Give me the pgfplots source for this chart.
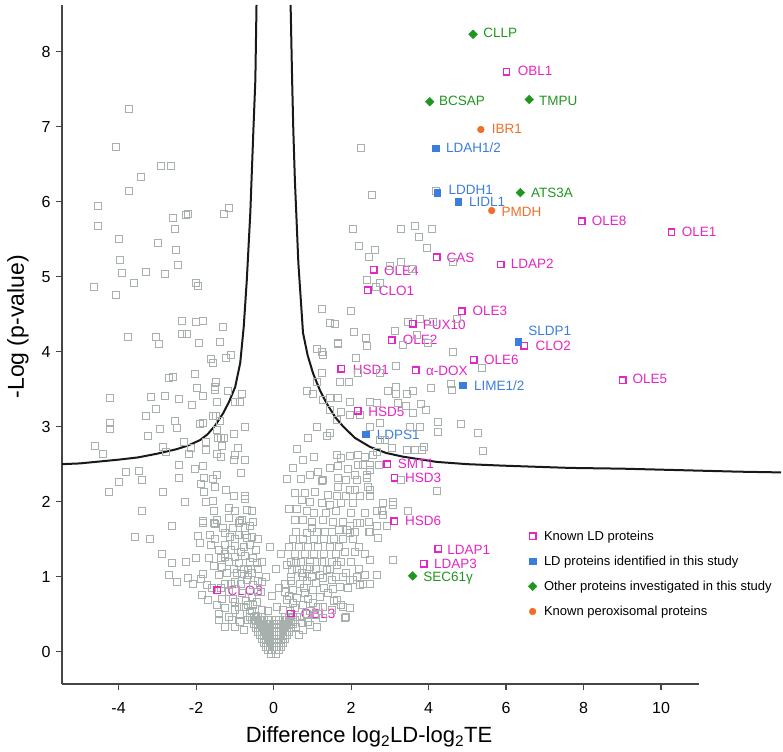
\documentclass[border=0pt]{standalone}
\usepackage{fontspec}
\setmainfont{Liberation Sans}
\usepackage{pgfplots}
\pgfplotsset{compat=1.18}
\definecolor{mag}{RGB}{228,38,196}
\definecolor{bl}{RGB}{58,125,222}
\definecolor{gr}{RGB}{32,150,32}
\definecolor{org}{RGB}{240,110,40}
\definecolor{gpt}{RGB}{168,176,174}
\definecolor{axg}{RGB}{70,70,70}
\tikzset{lbl/.style={anchor=west, inner sep=0pt, text height=1.4ex, text depth=0pt, font=\fontsize{13.5}{15}\selectfont}}
\begin{document}
\begin{tikzpicture}
\begin{axis}[
  width=637pt, height=679pt, scale only axis,
  xmin=-5.46, xmax=10.98, ymin=-0.43, ymax=8.62,
  axis lines=left, axis line style={-, line width=1.1pt, color=axg},
  tick align=outside, major tick length=6pt,
  tick style={line width=1.1pt, color=axg},
  xtick={-4,-2,0,2,4,6,8,10}, ytick={0,1,2,3,4,5,6,7,8},
  clip=false,
  /pgf/number format/assume math mode=true,
  ticklabel style={font=\fontsize{16}{18}\selectfont},
  xticklabel style={yshift=-9pt},
  yticklabel style={xshift=-2pt},
  every axis x label/.style={at={(axis description cs:0.482,-0.0780)}, anchor=center, font=\fontsize{22}{24}\selectfont},
  every axis y label/.style={at={(axis description cs:-0.069,0.526)}, anchor=center, rotate=90, font=\fontsize{23}{25}\selectfont},
  xlabel={Difference log\textsubscript{2}LD-log\textsubscript{2}TE},
  ylabel={-Log (p-value)},
  legend cell align=left,
  legend style={at={(0.7316,0.2261)}, anchor=north west, draw=none, fill=none, inner sep=0pt,
    row sep=14.2pt, column sep=7pt, nodes={inner sep=0pt}, font=\fontsize{13}{15}\selectfont},
]
% gray points
\addplot[only marks, mark=square, mark size=3.5pt, color=gpt, mark options={line width=0.9pt}, forget plot] coordinates {
(-3.72,7.23) (-4.07,6.73) (-2.90,6.47) (-2.66,6.47) (-3.42,6.33) (-3.72,6.14) (-4.54,5.94) (-4.52,5.68) (-2.60,5.78) (-2.26,5.82) (-2.20,5.84) (-2.54,5.64) (-1.27,5.83) (-1.16,5.92) (-3.98,5.50) (-2.99,5.45) (-2.51,5.36) (-3.96,5.22) (-2.48,5.16) (-3.90,5.05) (-3.30,5.06) (-2.81,5.03) (-3.61,4.91) (-4.63,4.86) (-4.07,4.76) (-2.01,4.92) (-1.95,4.88) (-2.37,4.41) (-2.01,4.40) (-1.81,4.41) (-1.31,4.33) (-3.77,4.20) (-3.04,4.20) (-2.37,4.24) (-2.24,4.23)
(-2.95,4.10) (-1.93,4.12) (-1.39,4.13) (-1.62,3.90) (-1.57,3.85) (-1.22,3.92) (-1.09,3.96) (-2.71,3.65) (-2.60,3.66) (-2.04,3.70) (-1.49,3.59) (-1.51,3.53) (-1.99,3.52) (-1.81,3.41) (-1.51,3.49) (-1.19,3.48) (-0.82,3.43) (-4.22,3.38) (-3.16,3.40) (-2.80,3.41) (-2.43,3.37) (-2.10,3.29) (-1.45,3.33) (-0.99,3.33) (-0.88,3.33) (-3.03,3.23) (-3.30,3.14) (-4.22,3.05) (-4.22,2.97) (-2.54,3.08) (-1.89,3.03) (-1.83,3.05) (-1.57,3.14) (-1.49,3.14) (-1.38,3.07) (-2.93,2.97) (-2.50,2.98) (-1.47,2.96) (-0.75,3.00) (-3.24,2.88) (-1.43,2.85) (-1.36,2.85) (-1.28,2.85) (-1.01,2.90) (-1.74,2.79) (-2.32,2.79) (-4.60,2.74) (-4.41,2.64) (-2.86,2.73) (-2.77,2.66) (-2.13,2.71) (-1.74,2.69) (-1.33,2.74) (-0.93,2.71) (-2.19,2.64) (-1.45,2.64) (-1.36,2.59) (-0.99,2.62) (-1.03,2.56) (-0.75,2.55) (-2.45,2.49) (-1.83,2.48) (-2.04,2.43) (-3.80,2.40) (-3.48,2.41) (-3.40,2.29) (-3.98,2.26) (-4.24,2.13) (-2.45,2.31) (-1.79,2.31) (-1.57,2.30) (-1.45,2.36) (-1.87,2.23) (-1.79,2.13) (-1.51,2.19) (-1.23,2.16) (-1.03,2.07) (-0.84,2.38) (-0.75,2.08) (-0.75,2.03) (-2.86,2.13) (-2.28,1.99) (-1.74,2.00) (-1.57,2.01) (-3.40,1.87) (-1.55,1.87) (-1.16,1.91) (-0.99,1.87) (-0.69,1.89) (-0.56,1.87) (-2.62,1.68) (-1.83,1.74) (-1.45,1.76) (-1.51,1.70) (-1.16,1.78) (-0.88,1.74) (-0.82,1.76) (-0.52,1.73)
(-1.83,1.72) (-1.55,1.71) (-0.90,1.71) (-0.60,1.67) (-3.57,1.53) (-3.18,1.50) (-1.94,1.54) (-1.64,1.56) (-1.25,1.58) (-1.12,1.53) (-0.90,1.56) (-0.69,1.51) (-0.56,1.53) (-1.89,1.45) (-1.62,1.42) (-1.26,1.42) (-0.99,1.41) (-0.77,1.40) (-0.60,1.42) (-1.25,1.31) (-2.88,1.30) (-2.62,1.19) (-2.26,1.20) (-1.68,1.25) (-1.35,1.25) (-1.25,1.27) (-0.99,1.27) (-0.73,1.28) (-0.52,1.25) (-0.30,1.20) (-0.43,1.18) (-1.33,1.13) (-1.03,1.11) (-0.77,1.11) (-0.65,1.09) (-0.39,1.10) (-2.71,1.02) (-2.21,0.99) (-1.81,1.04) (-1.42,1.02) (-0.82,1.04) (-0.65,1.02) (-2.50,0.93) (-2.08,0.91) (-1.87,0.97) (-1.72,0.89) (-1.26,0.91) (-0.99,0.93) (-0.69,0.96) (-0.52,0.89) (-0.30,0.93) (-1.16,0.80) (-0.82,0.78) (-0.56,0.73) (-0.32,0.80) (-1.85,0.76) (-1.70,0.69) (-1.33,0.71) (-0.99,0.67) (-1.46,0.62) (-1.25,0.58) (-0.99,0.56) (-0.77,0.60) (-0.52,0.62) (-0.30,0.56) (-1.42,0.51) (-1.16,0.47) (-1.08,0.42) (-0.65,0.42) (-1.25,0.33) (-0.99,0.33) (-0.77,0.29) (-1.42,0.42) (-0.88,0.50) (-0.62,0.52) (-0.45,0.48) (-1.05,0.70) (-0.72,0.68) (-0.42,0.66)
(-1.15,1.20) (-0.90,1.18) (-0.62,1.20) (-1.40,1.35) (-1.10,1.35) (-0.85,1.33) (-0.45,1.35) (-1.50,1.50) (-1.00,1.50) (-0.75,1.55) (-0.40,1.50) (-1.30,1.65) (-1.05,1.65) (-0.75,1.65) (-1.60,0.85) (-1.10,0.90) (-0.85,0.90) (-0.40,0.95) (-1.20,1.05) (-0.95,1.05) (-0.55,1.05) (-0.90,0.60) (-0.65,0.62) (-0.40,0.80) (-0.88,0.40) (-0.55,0.55) (-1.35,0.85) (-2.00,1.25) (-1.55,1.15)
(-0.15,0.55) (0.10,0.60) (-0.05,0.75) (0.15,0.85) (-0.20,1.00) (0.05,1.10) (0.20,1.30) (-0.10,1.40)
(-0.06,-0.03) (0.06,-0.03)
(-0.15,0.02) (-0.05,0.02) (0.05,0.02) (0.15,0.02)
(-0.2,0.07) (-0.1,0.07) (0,0.07) (0.1,0.07) (0.2,0.07)
(-0.25,0.12) (-0.15,0.12) (-0.05,0.12) (0.05,0.12) (0.15,0.12) (0.25,0.12)
(-0.3,0.17) (-0.2,0.17) (-0.1,0.17) (0,0.17) (0.1,0.17) (0.2,0.17) (0.3,0.17)
(-0.35,0.22) (-0.25,0.22) (-0.15,0.22) (-0.05,0.22) (0.05,0.22) (0.15,0.22) (0.25,0.22) (0.35,0.22)
(-0.4,0.27) (-0.3,0.27) (-0.2,0.27) (-0.1,0.27) (0,0.27) (0.1,0.27) (0.2,0.27) (0.3,0.27) (0.4,0.27)
(-0.45,0.32) (-0.35,0.32) (-0.25,0.32) (-0.15,0.32) (-0.05,0.32) (0.05,0.32) (0.15,0.32) (0.25,0.32) (0.35,0.32) (0.45,0.32)
(-0.5,0.37) (-0.4,0.37) (-0.3,0.37) (-0.2,0.37) (-0.1,0.37) (0,0.37) (0.1,0.37) (0.2,0.37) (0.3,0.37) (0.4,0.37) (0.5,0.37)
(-0.55,0.42) (-0.45,0.42) (-0.35,0.42) (-0.25,0.42) (-0.15,0.42) (0.05,0.42) (0.15,0.42) (0.25,0.42) (0.35,0.42) (0.45,0.42) (0.55,0.42)
(-0.6,0.47) (-0.5,0.47) (-0.4,0.47) (-0.3,0.47) (0.3,0.47) (0.4,0.47) (0.5,0.47) (0.6,0.47)
(0.34,1.16) (0.47,1.09) (0.59,1.18) (0.72,1.05) (0.94,1.13) (1.11,1.20) (1.19,1.02) (1.37,1.09) (1.50,0.96) (1.63,1.16) (1.71,0.87) (1.88,1.05) (1.93,0.85) (2.05,0.96) (2.23,0.89) (2.36,1.02) (2.49,0.91) (2.66,1.02) (0.29,0.91) (0.51,0.82) (0.68,0.91) (0.81,0.78) (1.02,0.82) (1.19,0.73) (1.41,0.78) (1.63,0.69) (1.80,0.60) (1.88,0.47) (1.50,0.56) (1.28,0.60) (1.02,0.65) (0.76,0.62) (0.51,0.65) (0.34,0.69) (0.25,0.56) (0.42,0.55) (0.68,0.47) (0.85,0.51) (1.07,0.49) (1.28,0.45) (0.59,0.33) (0.76,0.29) (0.94,0.36) (1.11,0.33) (0.65,0.22) (0.72,0.38) (0.88,0.40)
(0.40,0.75) (0.60,0.72) (0.90,0.70) (1.30,0.85) (0.45,0.95) (0.85,0.95) (1.10,0.92) (0.50,0.40) (0.95,0.55) (1.15,0.60) (0.30,0.80) (0.78,0.85) (1.55,0.68) (0.55,0.58)
(1.85,0.45) (1.97,0.58) (1.75,0.62) (1.54,0.84) (1.28,0.98) (1.85,1.33) (2.10,1.33) (1.97,1.58) (1.90,1.62) (2.46,1.73) (2.16,1.71) (3.07,1.22) (2.70,1.51) (2.47,1.60) (2.49,1.22) (2.31,0.91) (2.16,1.00) (1.97,0.96)
(0.50,1.50) (0.75,1.50) (1.05,1.50) (1.30,1.50) (1.55,1.50) (1.80,1.50) (2.05,1.50) (0.40,1.40) (0.65,1.40) (0.90,1.40) (1.15,1.40) (1.45,1.40) (1.70,1.40) (2.20,1.40) (0.55,1.30) (0.80,1.30) (1.05,1.30) (1.30,1.30) (1.60,1.30) (2.35,1.30) (0.45,1.20) (0.70,1.20) (0.95,1.20) (1.25,1.20) (1.50,1.20) (1.75,1.20) (2.00,1.20) (0.60,1.10) (0.85,1.10) (1.10,1.10) (1.45,1.10) (2.20,1.10) (0.45,1.00) (0.75,1.00) (1.00,1.00) (1.60,1.00) (1.80,1.00)
(1.67,4.10) (2.40,4.07) (4.63,4.00) (1.24,4.00) (1.28,3.96) (2.12,3.92) (3.17,3.81) (1.24,3.71) (2.18,3.71) (2.74,3.72) (1.71,3.60) (1.95,3.60) (1.11,3.60) (0.85,3.47) (1.02,3.44) (2.96,3.47) (3.17,3.53) (3.17,3.44) (3.43,3.44) (3.60,3.47) (4.05,3.52) (4.59,3.57) (4.61,3.49) (5.37,3.78) (1.45,3.38) (1.28,3.35) (1.67,3.38) (1.97,3.33) (2.49,3.33) (2.66,3.32) (3.22,3.31) (3.42,3.27) (3.81,3.30) (3.93,3.22) (3.60,3.18) (1.45,3.22) (1.75,3.20) (1.97,3.16) (2.23,3.16) (1.63,3.09) (2.74,3.05) (2.49,3.00) (3.52,3.00) (3.78,3.00) (4.25,3.06) (4.25,2.93) (4.83,3.04) (5.28,2.92) (1.11,3.00) (1.45,2.91) (1.37,2.87) (2.74,2.82) (2.87,2.82) (3.05,2.71) (3.43,2.69) (3.65,2.69) (3.88,2.73) (3.82,2.69) (5.41,2.67) (1.97,2.61) (1.63,2.62) (1.75,2.58) (2.18,2.62) (2.36,2.60) (2.66,2.66) (2.57,2.62) (0.76,2.56) (1.67,2.47) (1.93,2.44) (2.18,2.49) (2.31,2.49) (2.49,2.49) (2.71,2.49) (2.49,2.42) (2.40,2.36) (2.40,2.31) (2.10,2.36) (2.14,2.29) (1.67,2.31) (1.88,2.29) (1.28,2.29) (1.24,2.27) (1.67,2.20) (1.97,2.16) (2.10,2.16) (2.44,2.20) (2.49,2.16) (3.30,2.29) (4.21,2.14) (0.55,2.11) (0.81,2.11) (1.07,2.13) (1.41,2.09) (1.63,2.07) (1.88,2.07) (2.23,2.07) (2.49,2.07) (0.72,2.02) (0.94,2.00) (1.24,1.98) (1.45,1.96) (1.75,1.98) (2.06,1.98) (2.83,1.98) (3.09,2.00) (3.07,1.96) (3.47,1.87) (2.66,1.87) (2.79,1.87) (2.83,1.82) (0.55,1.76) (0.76,1.76) (0.98,1.73) (1.28,1.76) (1.54,1.73) (1.80,1.73) (1.97,1.67) (2.23,1.71) (2.49,1.60) (2.66,1.67) (2.92,1.67) (0.59,1.60) (0.85,1.58) (1.11,1.60) (1.32,1.60) (1.50,1.60) (0.40,1.90) (0.35,2.30) (0.50,2.45) (0.95,2.35) (1.05,2.60) (0.90,2.85) (0.60,2.70)
(1.05,1.85) (1.35,1.85) (1.60,1.88) (2.00,1.85) (2.35,1.85) (0.60,1.90) (0.85,1.88) (1.15,2.40) (1.45,2.45) (0.70,2.30) (1.00,1.65) (1.70,1.62) (2.10,1.60)
(2.25,6.71) (2.53,6.09) (4.20,6.14) (2.06,5.64) (3.30,5.64) (3.65,5.68) (4.10,5.64) (3.75,5.53) (2.20,5.41) (2.61,5.36) (2.46,5.26) (3.95,5.38) (3.00,5.14) (3.30,5.19) (3.56,5.10) (4.64,5.20) (2.40,4.96) (2.74,4.91) (2.64,4.86) (1.24,4.57) (2.01,4.54) (1.45,4.38) (1.58,4.37) (2.08,4.26) (2.38,4.18) (1.67,4.11) (3.13,4.27) (3.47,4.40) (3.78,4.44) (4.12,4.39) (4.72,4.44) (3.35,4.09) (3.69,4.22) (3.99,4.11) (1.11,4.04)
};
% significance curve
\addplot[line width=2pt, color=black!90, forget plot] coordinates {
(-5.46,2.50) (-5.0,2.51) (-4.6,2.53) (-4.0,2.56) (-3.5,2.59) (-3.0,2.64) (-2.5,2.70) (-2.2,2.75) (-1.9,2.82) (-1.7,2.90) (-1.5,3.02) (-1.3,3.18) (-1.15,3.33) (-0.99,3.53) (-0.86,3.85) (-0.77,4.33) (-0.69,4.96) (-0.60,5.85) (-0.52,6.96) (-0.47,7.62) (-0.44,8.62)
};
\addplot[line width=2pt, color=black!90, forget plot] coordinates {
(0.44,8.62) (0.48,7.6) (0.51,6.95) (0.55,6.29) (0.64,5.18) (0.76,4.25) (0.88,3.95) (1.02,3.71) (1.2,3.48) (1.37,3.31) (1.6,3.12) (1.80,3.0) (2.1,2.85) (2.49,2.73) (2.9,2.65) (3.34,2.60) (4.21,2.53) (5.0,2.50) (5.93,2.48) (7.65,2.45) (9.0,2.44) (10.5,2.42) (12.0,2.40) (13.1,2.39)
};
% known LD proteins
\addplot[only marks, mark=square, mark size=3.2pt, color=mag, mark options={line width=1.4pt}] coordinates {
(6.01,7.73) (7.95,5.74) (10.27,5.59) (4.21,5.26) (5.86,5.16) (2.59,5.09) (2.43,4.82) (4.86,4.54) (3.59,4.37) (3.05,4.15) (6.47,4.08) (1.75,3.77) (3.67,3.75) (5.17,3.89) (9.01,3.62) (2.17,3.21) (2.93,2.50) (3.12,2.32) (3.11,1.74) (4.25,1.37) (3.88,1.17) (-1.45,0.82) (0.44,0.51)
};
\addlegendentry{Known LD proteins}
\addplot[only marks, mark=square*, mark size=3.3pt, color=bl] coordinates {
(4.18,6.71) (4.22,6.12) (4.76,6.00) (6.31,4.13) (4.88,3.55) (2.38,2.90)
};
\addlegendentry{LD proteins identified in this study}
\addplot[only marks, mark=square*, mark size=3.1pt, color=gr, mark options={rotate=45}] coordinates {
(5.15,8.23) (4.03,7.33) (6.60,7.36) (6.37,6.12) (3.59,1.01)
};
\addlegendentry{Other proteins investigated in this study}
\addplot[only marks, mark=*, mark size=3.4pt, color=org] coordinates {
(5.35,6.96) (5.63,5.88)
};
\addlegendentry{Known peroxisomal proteins}
% labels
\node[lbl, text=gr] at (axis cs:5.41,8.23) {CLLP};
\node[lbl, text=mag] at (axis cs:6.30,7.73) {OBL1};
\node[lbl, text=gr] at (axis cs:4.27,7.33) {BCSAP};
\node[lbl, text=gr] at (axis cs:6.85,7.33) {TMPU};
\node[lbl, text=org] at (axis cs:5.63,6.95) {IBR1};
\node[lbl, text=bl] at (axis cs:4.45,6.70) {LDAH1/2};
\node[lbl, text=bl] at (axis cs:4.51,6.14) {LDDH1};
\node[lbl, text=bl] at (axis cs:5.04,5.98) {LIDL1};
\node[lbl, text=org] at (axis cs:5.88,5.85) {PMDH};
\node[lbl, text=gr] at (axis cs:6.64,6.11) {ATS3A};
\node[lbl, text=mag] at (axis cs:8.21,5.73) {OLE8};
\node[lbl, text=mag] at (axis cs:10.53,5.58) {OLE1};
\node[lbl, text=mag] at (axis cs:4.46,5.24) {CAS};
\node[lbl, text=mag] at (axis cs:6.12,5.16) {LDAP2};
\node[lbl, text=mag] at (axis cs:2.85,5.07) {OLE4};
\node[lbl, text=mag] at (axis cs:2.71,4.80) {CLO1};
\node[lbl, text=mag] at (axis cs:5.13,4.53) {OLE3};
\node[lbl, text=mag] at (axis cs:3.85,4.35) {PUX10};
\node[lbl, text=mag] at (axis cs:3.33,4.15) {OLE2};
\node[lbl, text=bl] at (axis cs:6.57,4.26) {SLDP1};
\node[lbl, text=mag] at (axis cs:6.76,4.06) {CLO2};
\node[lbl, text=mag] at (axis cs:2.04,3.75) {HSD1};
\node[lbl, text=mag] at (axis cs:3.93,3.73) {α-DOX};
\node[lbl, text=mag] at (axis cs:5.43,3.88) {OLE6};
\node[lbl, text=bl] at (axis cs:5.17,3.53) {LIME1/2};
\node[lbl, text=mag] at (axis cs:9.26,3.62) {OLE5};
\node[lbl, text=mag] at (axis cs:2.44,3.19) {HSD5};
\node[lbl, text=bl] at (axis cs:2.66,2.88) {LDPS1};
\node[lbl, text=mag] at (axis cs:3.20,2.49) {SMT1};
\node[lbl, text=mag] at (axis cs:3.39,2.31) {HSD3};
\node[lbl, text=mag] at (axis cs:3.39,1.73) {HSD6};
\node[lbl, text=mag] at (axis cs:4.48,1.35) {LDAP1};
\node[lbl, text=mag] at (axis cs:4.14,1.16) {LDAP3};
\node[lbl, text=gr] at (axis cs:3.86,0.99) {SEC61γ};
\node[lbl, text=mag] at (axis cs:-1.19,0.80) {CLO3};
\node[lbl, text=mag] at (axis cs:0.70,0.49) {OBL3};
\end{axis}
\pgfresetboundingbox
\path[use as bounding box] ([xshift=-62pt,yshift=-67pt]current axis.south west) rectangle ([xshift=721pt,yshift=684pt]current axis.south west);
\end{tikzpicture}
\end{document}
